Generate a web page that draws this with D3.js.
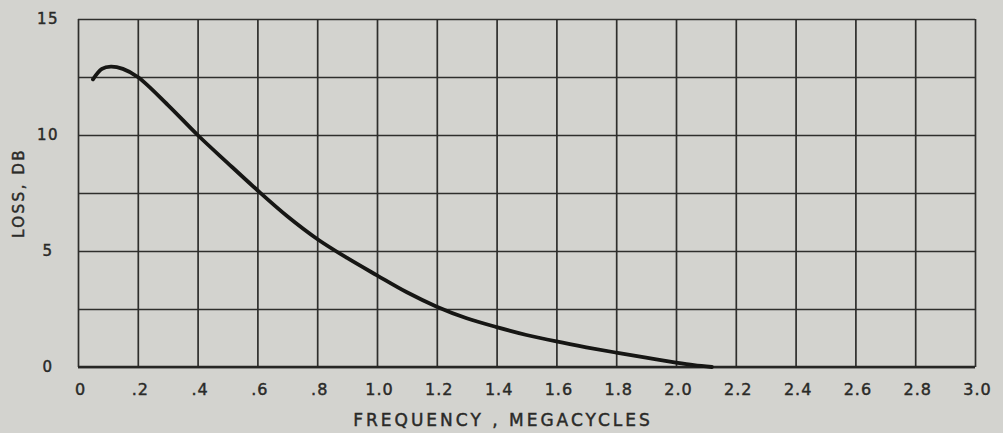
<!DOCTYPE html>
<html>
<head>
<meta charset="utf-8">
<script src="https://cdn.jsdelivr.net/npm/d3@7"></script>
<style>
  body { margin: 0; background: #d3d3cf; }
  svg { display: block; }
  text { font-family: 'DejaVu Sans', sans-serif; fill: #2a2a28; stroke: #2a2a28; stroke-width: 0.45px; }
</style>
</head>
<body>
<svg id="container" width="1003" height="433"></svg>
<script>
// frequency (megacycles) vs loss (db)
const freq = [0.05, 0.08, 0.11, 0.15, 0.2, 0.3, 0.4, 0.5, 0.6, 0.7, 0.8, 0.9, 1.0, 1.1, 1.2, 1.3, 1.4, 1.5, 1.6, 1.7, 1.8, 1.9, 2.0, 2.06, 2.12]
const loss = [12.4, 12.85, 12.95, 12.85, 12.5, 11.3, 10.0, 8.8, 7.62, 6.5, 5.52, 4.7, 3.95, 3.22, 2.6, 2.1, 1.72, 1.38, 1.1, 0.85, 0.62, 0.4, 0.19, 0.08, 0]

const xTicks = [0, 0.2, 0.4, 0.6, 0.8, 1.0, 1.2, 1.4, 1.6, 1.8, 2.0, 2.2, 2.4, 2.6, 2.8, 3.0]
const xTickLabels = ['0', '.2', '.4', '.6', '.8', '1.0', '1.2', '1.4', '1.6', '1.8', '2.0', '2.2', '2.4', '2.6', '2.8', '3.0']
const yGrid = [0, 2.5, 5, 7.5, 10, 12.5, 15]
const yTicks = [0, 5, 10, 15]

const svg = d3.select('#container')
const mLeft = 78, mRight = 975, mTop = 19, mBottom = 367

const xScale = d3.scaleLinear().domain([0, 3]).range([mLeft, mRight])
const yScale = d3.scaleLinear().domain([0, 15]).range([mBottom, mTop])

// vertical grid
const xGrid = d3.axisBottom(xScale).tickValues(xTicks).tickSize(-(mBottom - mTop)).tickFormat('')
svg.append('g')
  .attr('transform', `translate(0,${mBottom})`)
  .call(xGrid)
  .call((g) => g.select('.domain').remove())
  .selectAll('line')
  .attr('stroke', '#2e2e2c')
  .attr('stroke-width', 1.7)

// horizontal grid
const yGridAxis = d3.axisLeft(yScale).tickValues(yGrid).tickSize(-(mRight - mLeft)).tickFormat('')
svg.append('g')
  .attr('transform', `translate(${mLeft},0)`)
  .call(yGridAxis)
  .call((g) => g.select('.domain').remove())
  .selectAll('line')
  .attr('stroke', '#2e2e2c')
  .attr('stroke-width', 1.7)

// bottom frame line a bit heavier
svg.append('line')
  .attr('x1', mLeft).attr('x2', mRight)
  .attr('y1', yScale(0)).attr('y2', yScale(0))
  .attr('stroke', '#262624').attr('stroke-width', 2.4)

// tick labels
const xAxis = d3.axisBottom(xScale).tickValues(xTicks).tickSize(0).tickPadding(17)
  .tickFormat((d, i) => xTickLabels[i])
svg.append('g')
  .attr('transform', `translate(2,${mBottom})`)
  .call(xAxis)
  .call((g) => g.select('.domain').remove())
  .selectAll('text')
  .style('font-size', '16px')
  .style('letter-spacing', '1px')
  .style('font-family', "'DejaVu Sans', sans-serif")
  .attr('fill', '#2a2a28')

const yAxis = d3.axisLeft(yScale).tickValues(yTicks).tickSize(0).tickPadding(0)
svg.append('g')
  .attr('transform', `translate(${mLeft - 30},0)`)
  .call(yAxis)
  .call((g) => g.select('.domain').remove())
  .selectAll('text')
  .attr('text-anchor', 'middle')
  .attr('x', 0)
  .style('font-size', '15px')
  .style('letter-spacing', '1.5px')
  .style('font-family', "'DejaVu Sans', sans-serif")
  .attr('fill', '#2a2a28')

// loss curve
const line = d3.line()
  .x((d, i) => xScale(freq[i]))
  .y((d) => yScale(d))
  .curve(d3.curveCatmullRom)

svg.append('path')
  .datum(loss)
  .attr('d', line)
  .attr('fill', 'none')
  .attr('stroke', '#161614')
  .attr('stroke-width', 3.8)
  .attr('stroke-linecap', 'round')

// axis titles
svg.append('text')
  .attr('x', 503)
  .attr('y', 426)
  .attr('text-anchor', 'middle')
  .style('font-size', '17px')
  .style('letter-spacing', '3px')
  .text('FREQUENCY ,  MEGACYCLES')

svg.append('text')
  .attr('transform', 'translate(24,193) rotate(-90)')
  .attr('text-anchor', 'middle')
  .style('font-size', '15px')
  .style('letter-spacing', '2.5px')
  .text('LOSS, DB')
</script>
</body>
</html>
